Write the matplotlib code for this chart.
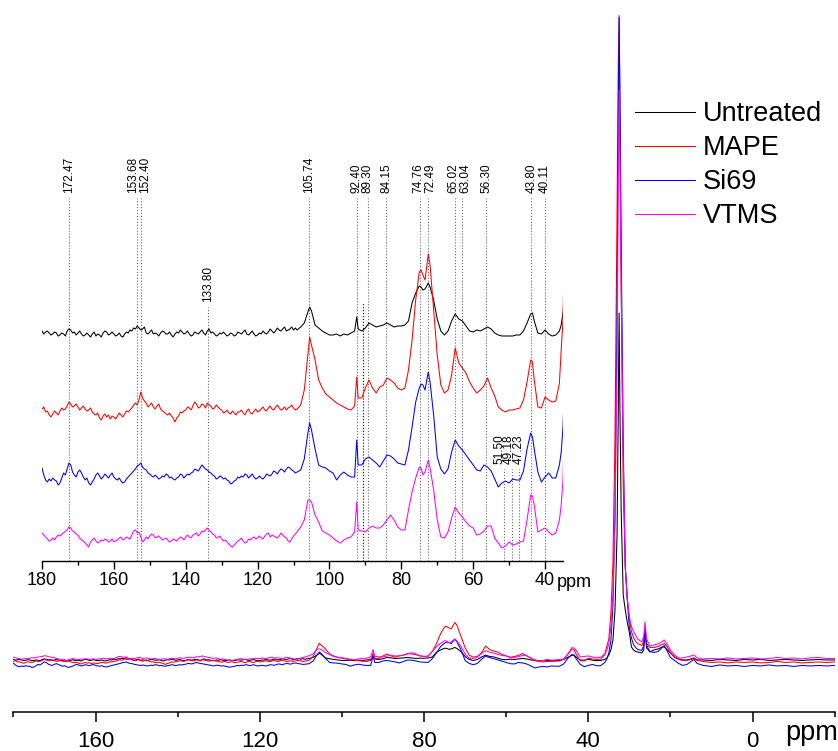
import numpy as np
import matplotlib
matplotlib.use('Agg')
from matplotlib import pyplot as plt

plt.rcParams['font.family'] = ['Liberation Sans', 'DejaVu Sans']

# ppm grid: 0.5 ppm steps 180..109, then an uneven grid down to -20
ppm_b = [108, 107, 106, 105.5, 105, 104, 103, 102, 101, 100,
         99, 98, 97, 96, 95, 94, 93, 92.4, 92, 91,
         90, 89, 88, 87, 86, 85, 84, 83, 82, 81,
         80, 79, 78, 77, 76, 75, 74.5, 74, 73.4, 72.5,
         72, 71, 70, 69, 68, 67, 66, 65, 64, 63,
         62, 61, 60, 59, 58, 57, 56, 55, 54, 53,
         52, 51, 50, 49, 48, 47, 46, 45, 44, 43.5,
         43, 42, 41, 40, 39, 38, 37, 36, 35.5, 35,
         34.5, 34, 33.5, 33, 32.7, 32.5, 32.3, 32, 31.5, 31,
         30.5, 30, 29.5, 29, 28.5, 28, 27, 26.5, 26.2, 25.8,
         25, 24, 23, 22, 21.5, 21, 20, 19, 18, 17,
         16, 15, 14.3, 13.5, 12, 10, 8, 6, 4, 2,
         0, -2, -4, -6, -8, -10, -12, -14, -16, -18,
         -20]
ppm = np.concatenate([np.arange(180, 108.9, -0.5), ppm_b])

# intensities (arbitrary units)
untreated = [2, -1, 1, 2, 0, -2, -1, 1, 0, -3,
             -2, 0, -1, -3, 2, 4, 3, 0, 1, -2,
             0, 2, -1, -3, -2, 0, -2, -4, -1, 1,
             -3, -1, -2, -4, 0, 2, 1, -2, -1, 1,
             -1, -3, -2, 0, -3, -4, -1, 1, 0, 3,
             2, 5, 4, 7, 5, 3, 4, 6, 0, -1,
             1, 3, -1, 0, -1, -3, 0, 2, 1, -1,
             -1, 1, -2, -4, -1, 1, 0, 3, 1, -1,
             0, 2, -1, -3, -2, 1, 0, -1, 1, 3,
             0, -2, 2, 4, 0, 1, -1, -3, -2, 0,
             -1, 1, -1, -3, -2, 0, -1, -3, -2, 1,
             0, -1, 1, 3, -1, -2, 0, 2, -1, -3,
             -2, 0, -1, 2, 0, -1, 1, 4, 2, 0,
             2, 5, 3, 2, 4, 6, 2, 3, 4, 6,
             3, 5, 3,
             6, 10, 21, 26, 22, 8, 5, 2, 0, -2,
             -2, -1, -3, -1, -2, 0, 2, 16, 4, 2,
             5, 10, 8, 6, 7, 8, 10, 8, 6, 7,
             7, 8, 12, 30, 40, 47, 46, 43, 44, 50,
             46, 33, 14, 2, -2, 2, 12, 19, 14, 12,
             7, 2, 1, 3, 2, 4, 6, 4, 0, -2,
             -3, -3, -3, -3, -2, -2, 2, 10, 19, 20,
             12, 0, -1, 3, -1, -3, -2, 2, 8, 20,
             40, 80, 200, 500, 1000, 1388, 1000, 600, 260, 200,
             150, 110, 52, 40, 34, 32, 28, 40, 120, 48,
             32, 40, 44, 52, 52, 44, 28, 12, 4, 0,
             0, 4, 8, 0, 0, -2, 2, 0, -2, 2,
             0, 2, -2, 0, 2, 0, -2, 0, 2, 0,
             0]

mape = [1, 3, -2, -1, -5, -7, -4, -1, -3, -5,
        -1, 2, 0, 1, 4, 8, 6, 3, 4, 6,
        3, 0, 2, 4, 1, -1, 0, 2, -2, -4,
        -5, -3, -8, -10, -6, -4, -7, -5, -9, -6,
        -7, -9, -6, -3, -5, -7, -4, -1, -2, 0,
        2, 5, 7, 5, 10, 18, 12, 9, 7, 3,
        5, 7, 3, 1, 4, 6, 1, -1, -2, -4,
        -5, -3, -6, -8, -12, -8, -6, -2, -3, -1,
        0, 3, 2, 0, 4, 8, 6, 2, 3, 6,
        5, 2, 7, 5, 4, 1, 2, 5, 3, 1,
        0, -3, -2, 0, -3, -4, -1, -3, -5, -2,
        -2, 0, -3, -5, -1, 1, -3, -4, -1, 1,
        -2, -1, 1, 3, 0, -1, 2, 4, 1, 0,
        3, 5, 2, 0, 1, 3, 0, 2, 3, 5,
        2, 0, 1,
        5, 20, 55, 73, 65, 50, 30, 22, 16, 13,
        10, 7, 5, 3, 1, 0, 4, 33, 12, 12,
        22, 30, 22, 17, 23, 25, 32, 30, 27, 22,
        20, 22, 40, 70, 110, 138, 140, 135, 130, 156,
        145, 100, 55, 25, 17, 20, 35, 62, 47, 42,
        37, 28, 22, 17, 20, 24, 32, 22, 14, 3,
        0, -2, 0, 0, 1, 2, 10, 28, 50, 48,
        30, 3, 2, 13, 10, 8, 9, 27, 60, 90,
        190, 400, 900, 1800, 2400, 2584, 2200, 1500, 700, 380,
        250, 170, 120, 96, 80, 72, 64, 80, 132, 72,
        56, 56, 60, 68, 72, 64, 36, 16, 8, 4,
        4, 8, 12, 4, 0, -4, -2, -6, -2, -4,
        -2, -6, -4, 0, -4, -2, -6, -4, -2, -4,
        -2]

si69 = [9, 2, -3, -5, -2, -4, -1, -3, -4, -8,
        -6, -1, 4, 2, 8, 14, 12, 5, 2, 0,
        5, 7, 4, 0, -3, -1, -6, -8, -5, -2,
        2, 4, 1, -2, 0, 3, 1, -1, 2, 4,
        0, -2, -3, -1, -4, -6, -5, -2, 0, 2,
        4, 6, 8, 11, 12, 14, 10, 8, 7, 4,
        3, 1, 0, 2, 0, -2, -1, 1, 0, 3,
        2, -1, 0, -2, -3, -1, 0, 3, 2, -1,
        1, 3, 2, 4, 5, 8, 7, 6, 9, 12,
        10, 8, 7, 5, 4, 2, 1, -2, -1, 1,
        0, -2, -1, -3, -4, -7, -6, -4, -3, 0,
        -1, 1, 0, 3, 2, -1, 1, 3, 0, -2,
        -1, 1, -1, -2, 0, 3, 2, 1, 3, 6,
        5, 3, 6, 8, 7, 5, 8, 10, 9, 7,
        6, 4, 5,
        7, 18, 44, 54, 47, 28, 12, 10, 9, 6,
        4, -3, 2, 5, 2, 0, 0, 37, 12, 12,
        18, 20, 17, 14, 10, 16, 22, 21, 18, 14,
        13, 12, 27, 50, 75, 89, 93, 92, 87, 105,
        95, 62, 20, 8, 3, 8, 25, 37, 31, 27,
        22, 17, 12, 7, 6, 12, 10, 6, -2, -10,
        -6, -4, -6, -2, -3, -3, 6, 28, 44, 40,
        28, 5, -5, 0, 4, -1, -1, 12, 25, 50,
        100, 240, 600, 1400, 2200, 2592, 2300, 1700, 900, 400,
        260, 150, 110, 84, 72, 64, 60, 80, 152, 80,
        56, 52, 56, 72, 80, 64, 32, 20, 8, 0,
        4, 16, 24, 8, 0, -4, 2, -2, 0, -4,
        0, -2, 2, -2, 0, -4, 0, -2, 0, -2,
        0]

vtms = [7, 5, 3, 1, -1, 0, 2, 0, 3, 5,
        4, 6, 7, 9, 10, 13, 12, 9, 8, 6,
        5, 2, 0, -1, -3, -5, -7, -2, 0, 2,
        -1, -3, -2, 0, -1, 1, 0, -2, -1, 1,
        -2, -1, 0, 2, 3, 0, 1, 3, 2, 1,
        5, 9, 10, 7, 8, 3, -2, 0, 3, 1,
        4, 6, 5, 2, 3, 4, 2, 0, 1, 2,
        0, -2, -1, 1, 0, -1, 1, 3, 2, 0,
        3, 5, 3, 2, 5, 6, 7, 4, 6, 9,
        8, 10, 12, 10, 8, 6, 5, 2, 3, 4,
        1, -1, 0, -2, -4, -6, -7, -5, -3, -1,
        0, 2, -1, -3, -2, 1, 0, 2, 3, 1,
        2, 4, 2, 1, 4, 6, 7, 3, 5, 4,
        3, 2, 4, 7, 5, 3, 2, -1, -2, 1,
        4, 6, 8,
        13, 20, 40, 40, 38, 25, 18, 9, 7, 5,
        2, -1, -3, 0, 2, 3, 8, 38, 10, 9,
        8, 12, 14, 12, 12, 15, 20, 25, 20, 13,
        10, 10, 30, 48, 62, 73, 72, 65, 68, 80,
        72, 50, 20, 3, 2, 8, 22, 33, 27, 23,
        18, 14, 12, 5, 6, 9, 14, 14, 2, -3,
        -8, -6, -2, -5, -4, -2, -1, 20, 45, 44,
        35, 8, 10, 12, 8, 5, 7, 20, 35, 60,
        130, 260, 550, 1200, 1900, 2276, 2000, 1500, 800, 360,
        240, 168, 130, 110, 96, 80, 68, 90, 148, 80,
        52, 56, 60, 70, 76, 64, 36, 16, 4, 4,
        8, 12, 16, 4, 0, 2, 0, 4, 0, 2,
        4, 0, 2, 6, 2, 4, 0, 4, 6, 2,
        2]

names = ['Untreated', 'MAPE', 'Si69', 'VTMS']
series = [untreated, mape, si69, vtms]
colors = ['black', 'red', 'blue', 'magenta']

# assigned peaks in the inset
peaks = [172.47, 153.68, 152.40, 133.80, 105.74, 92.40, 89.30, 84.15, 74.76,
         72.49, 65.02, 63.04, 56.30, 51.50, 49.18, 47.23, 43.80, 40.11]

# layout
main_off = [207, 201, 185, 211]
inset_off = [228, 151, 84, 21]
label_x = {153.68: 154.6, 152.40: 151.3, 74.76: 75.3, 72.49: 72.0,
           65.02: 65.4, 63.04: 62.3, 51.50: 52.6, 49.18: 50.0, 47.23: 47.4}
label_y = {133.80: 259, 51.50: 97, 49.18: 97, 47.23: 97}
W, H = 838, 751

fig = plt.figure(figsize=(W / 100, H / 100), dpi=100)

# main spectrum
ax = fig.add_axes([13.4 / W, 1 - 711.7 / H, 821.3 / W, 711.7 / H])
for y, off, c, n in zip(series, main_off, colors, names):
    ax.plot(ppm, np.array(y) + off, color=c, lw=0.75, label=n)
ax.set_xlim(180, -20)
ax.set_ylim(0, 2847)
for s in ['top', 'right', 'left']:
    ax.spines[s].set_visible(False)
ax.spines['bottom'].set_linewidth(1.1)
ax.set_yticks([])
ax.set_xticks([160, 120, 80, 40, 0])
ax.set_xticks([180, 140, 100, 60, 20, -20], minor=True)
ax.tick_params(axis='x', which='major', length=7.2, width=1.1, labelsize=16, pad=6.5)
ax.tick_params(axis='x', which='minor', length=3.6, width=1.1)
fig.text(785 / W, 1 - 740 / H, 'ppm', fontsize=19.5, va='baseline')

ax.legend(loc='upper left', bbox_to_anchor=(635 / W, 1 - 101 / H),
          bbox_transform=fig.transFigure, frameon=False, fontsize=19.5,
          handlelength=2.2, handletextpad=0.3, labelspacing=0.3,
          borderpad=0, borderaxespad=0)

# inset, stacked
ax2 = fig.add_axes([42 / W, 1 - 561 / H, 521 / W, 500 / H])
ax2.set_facecolor('none')
for y, off, c in zip(series, inset_off, colors):
    ax2.plot(ppm, np.array(y) + off, color=c, lw=0.75, zorder=3)
ax2.set_xlim(180, 35)
ax2.set_ylim(0, 500)
for s in ['top', 'right', 'left']:
    ax2.spines[s].set_visible(False)
ax2.spines['bottom'].set_linewidth(1.0)
ax2.set_yticks([])
ax2.set_xticks([180, 160, 140, 120, 100, 80, 60, 40])
ax2.set_xticks([170, 150, 130, 110, 90, 70, 50], minor=True)
ax2.tick_params(axis='x', which='major', length=5.8, width=1.0, labelsize=13, pad=2)
ax2.tick_params(axis='x', which='minor', length=2.9, width=1.0)
fig.text(557 / W, 1 - 587 / H, 'ppm', fontsize=13, va='baseline')

for p in peaks:
    yb = label_y.get(p, 368)
    ax2.plot([p, p], [0, yb - 5], ls=':', color='0.4', lw=0.8, zorder=1)
    ax2.text(label_x.get(p, p), yb, '%.2f' % p, rotation=90, ha='center',
             va='bottom', fontsize=8.5)
# unlabelled marker line
ax2.plot([90.6, 90.6], [0, 258], ls=':', color='black', lw=0.8, zorder=1)

fig.savefig('out.png', dpi=100)
